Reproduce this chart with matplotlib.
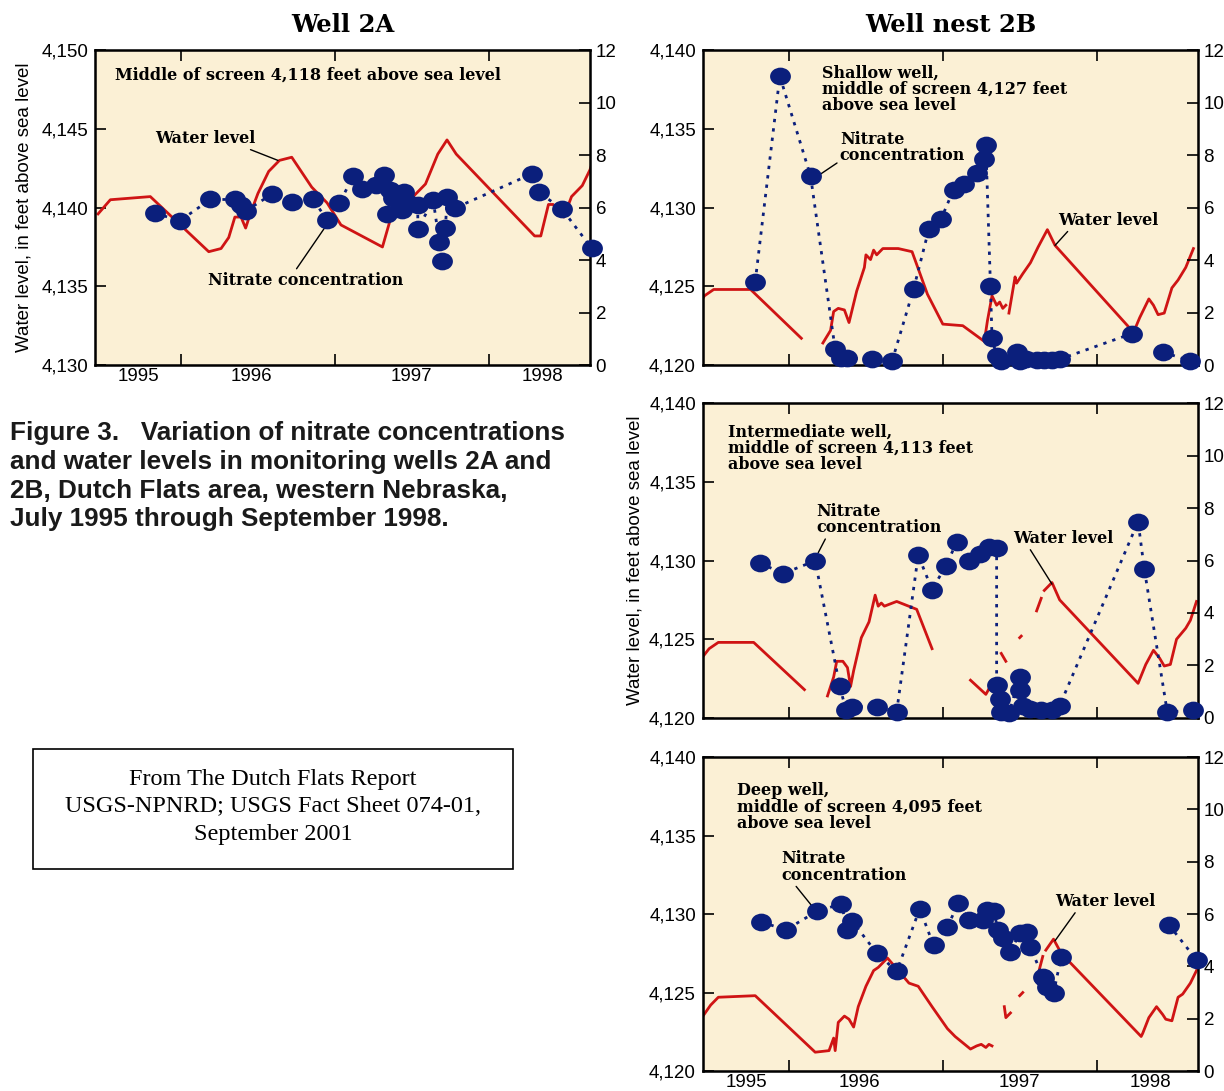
import numpy as np
import matplotlib
matplotlib.use("Agg")
import matplotlib.pyplot as plt
from matplotlib.path import Path
from matplotlib.patches import Rectangle
from matplotlib.ticker import FuncFormatter

nan = np.nan

# ---- Well 2A ----
wl_2a_yr = [1995.46, 1995.54, 1995.80, 1996.18, 1996.26, 1996.31, 1996.35, 1996.39, 1996.42,
            1996.45, 1996.50, 1996.57, 1996.64, 1996.72, 1996.85, 1996.95, 1997.04, 1997.31,
            1997.36, 1997.44, 1997.51, 1997.59, 1997.67, 1997.73, 1997.79, 1998.30, 1998.34,
            1998.39, 1998.42, 1998.49, 1998.54, 1998.61, 1998.66, 1998.68]
wl_2a = [4139.6, 4140.5, 4140.7, 4137.2, 4137.4, 4138.1, 4139.4, 4139.4, 4138.7,
         4139.6, 4140.9, 4142.3, 4143.0, 4143.2, 4141.3, 4140.3, 4138.9, 4137.5,
         4139.2, 4140.0, 4140.7, 4141.5, 4143.4, 4144.3, 4143.4, 4138.2, 4138.2,
         4140.2, 4140.2, 4139.4, 4140.7, 4141.4, 4142.4, 4143.0]
no3_2a_yr = [1995.83, 1995.99, 1996.19, 1996.35, 1996.39, 1996.42, 1996.59, 1996.72, 1996.86,
             1996.95, 1997.03, 1997.12, 1997.18, 1997.27, 1997.32, 1997.34, 1997.36, 1997.38,
             1997.44, 1997.45, 1997.47, 1997.54, 1997.54, 1997.64, 1997.68, 1997.70, 1997.72,
             1997.73, 1997.78, 1998.28, 1998.33, 1998.48, 1998.67]
no3_2a = [5.80, 5.49, 6.31, 6.31, 6.09, 5.87, 6.51, 6.22, 6.31,
          5.52, 6.17, 7.20, 6.70, 6.86, 7.24, 5.75, 6.67, 6.36,
          5.90, 6.59, 6.21, 6.10, 5.18, 6.29, 4.69, 3.96, 5.22,
          6.40, 5.98, 7.28, 6.58, 5.93, 4.46]

# ---- Well nest 2B, shallow ----
wl_sh_yr = [1995.41, 1995.45, 1995.51, 1995.75, 1996.08, nan,
            1996.22, 1996.27, 1996.29, 1996.32, 1996.36, 1996.39, 1996.44, 1996.49, 1996.50,
            1996.53, 1996.55, 1996.57, 1996.61, 1996.71, 1996.80, 1996.90, 1997.00, 1997.13,
            1997.27, 1997.29, 1997.32, 1997.35, 1997.37, 1997.39, 1997.41, nan,
            1997.43, 1997.47, 1997.48, 1997.52, 1997.57, 1997.62, 1997.68, 1997.73, 1998.22,
            1998.25, 1998.28, 1998.34, 1998.37, 1998.40, 1998.44, 1998.49, 1998.53, 1998.58,
            1998.63]
wl_sh = [4123.8, 4124.4, 4124.8, 4124.8, 4121.7, nan,
         4121.4, 4122.2, 4123.4, 4123.6, 4123.5, 4122.7, 4124.7, 4126.2, 4127.0,
         4126.7, 4127.3, 4127.0, 4127.4, 4127.4, 4127.2, 4124.5, 4122.6, 4122.5,
         4121.5, 4122.8, 4124.4, 4123.8, 4124.0, 4123.6, 4123.8, nan,
         4123.3, 4125.6, 4125.2, 4125.8, 4126.5, 4127.5, 4128.6, 4127.6, 4122.3,
         4122.3, 4123.0, 4124.2, 4123.8, 4123.2, 4123.3, 4124.9, 4125.4, 4126.2,
         4127.4]
no3_sh_yr = [1995.78, 1995.94, 1996.14, 1996.30, 1996.34, 1996.38, 1996.54, 1996.67, 1996.81,
             1996.91, 1996.99, 1997.07, 1997.14, 1997.22, 1997.27, 1997.28, 1997.31, 1997.32,
             1997.35, 1997.38, 1997.48, 1997.50, 1997.54, 1997.61, 1997.66, 1997.71, 1997.76,
             1998.23, nan, 1998.43, 1998.61]
no3_sh = [3.18, 11.01, 7.20, 0.60, 0.28, 0.26, 0.22, 0.15, 2.90,
          5.20, 5.58, 6.69, 6.90, 7.31, 7.84, 8.37, 3.00, 1.02,
          0.34, 0.15, 0.51, 0.15, 0.22, 0.18, 0.18, 0.18, 0.22,
          1.20, nan, 0.50, 0.15]

# ---- Well nest 2B, intermediate ----
wl_im_yr = [1995.44, 1995.48, 1995.54, 1995.77, 1996.10, nan,
            1996.25, 1996.29, 1996.31, 1996.35, 1996.38, 1996.40, 1996.42, 1996.47, 1996.52,
            1996.56, 1996.58, 1996.60, 1996.62, 1996.70, 1996.83, 1996.93, nan,
            1997.18, 1997.28, 1997.32, nan, 1997.38, 1997.41, nan, 1997.50, 1997.51, nan,
            1997.61, 1997.64, nan, 1997.66, 1997.71, 1997.76, 1998.27, 1998.32, 1998.37,
            1998.41, 1998.44, 1998.48, 1998.52, 1998.58, 1998.61, 1998.65]
wl_im = [4123.9, 4124.4, 4124.8, 4124.8, 4121.8, nan,
         4121.4, 4122.6, 4123.6, 4123.6, 4123.2, 4122.0, 4123.0, 4125.1, 4126.1,
         4127.8, 4127.1, 4127.3, 4127.1, 4127.4, 4126.9, 4124.4, nan,
         4122.4, 4121.5, 4122.2, nan, 4124.1, 4123.6, nan, 4125.1, 4125.2, nan,
         4126.8, 4127.6, nan, 4128.1, 4128.6, 4127.5, 4122.2, 4123.4, 4124.3,
         4123.8, 4123.3, 4123.4, 4125.0, 4125.7, 4126.2, 4127.4]
no3_im_yr = [1995.81, 1995.96, 1996.17, 1996.33, 1996.37, 1996.41, 1996.57, 1996.70, 1996.84,
             1996.93, 1997.02, 1997.09, 1997.17, 1997.24, 1997.30, 1997.35, 1997.35, 1997.37,
             1997.38, 1997.43, 1997.50, 1997.50, 1997.52, 1997.57, 1997.64, 1997.71, 1997.76,
             1998.27, 1998.31, 1998.46, 1998.63]
no3_im = [5.91, 5.50, 5.99, 1.20, 0.31, 0.43, 0.43, 0.24, 6.20,
          4.89, 5.80, 6.69, 5.99, 6.23, 6.52, 6.48, 1.27, 0.73,
          0.22, 0.18, 1.58, 1.07, 0.47, 0.34, 0.31, 0.31, 0.47,
          7.48, 5.69, 0.22, 0.31]

# ---- Well nest 2B, deep ----
wl_dp_yr = [1995.44, 1995.49, 1995.54, 1995.78, 1996.17, 1996.26, 1996.29, 1996.30, 1996.32,
            1996.36, 1996.39, 1996.42, 1996.45, 1996.50, 1996.55, 1996.58, 1996.64, 1996.78,
            1996.84, 1996.93, 1997.03, 1997.08, 1997.18, 1997.22, 1997.25, 1997.28, 1997.30,
            1997.32, nan, 1997.40, 1997.41, 1997.44, nan, 1997.50, 1997.52, nan,
            1997.61, 1997.65, nan, 1997.67, 1997.72, 1997.77, 1998.29, 1998.30, 1998.34,
            1998.39, 1998.43, 1998.45, 1998.49, 1998.53, 1998.56, 1998.61, 1998.66]
wl_dp = [4123.5, 4124.2, 4124.7, 4124.8, 4121.2, 4121.3, 4122.1, 4121.3, 4123.1,
         4123.5, 4123.3, 4122.8, 4124.1, 4125.4, 4126.4, 4126.6, 4127.2, 4125.6,
         4125.4, 4124.1, 4122.7, 4122.2, 4121.4, 4121.6, 4121.7, 4121.5, 4121.7,
         4121.6, nan, 4124.1, 4123.4, 4123.7, nan, 4124.8, 4125.0, nan,
         4125.8, 4127.3, nan, 4127.7, 4128.4, 4127.5, 4122.2, 4122.4, 4123.4,
         4124.1, 4123.6, 4123.3, 4123.2, 4124.7, 4124.9, 4125.6, 4126.6]
no3_dp_yr = [1995.82, 1995.98, 1996.18, 1996.34, 1996.38, 1996.41, 1996.57, 1996.70, 1996.85,
             1996.94, 1997.03, 1997.10, 1997.17, 1997.26, 1997.29, 1997.33, 1997.36, 1997.39,
             1997.44, 1997.50, 1997.55, 1997.57, 1997.65, 1997.66, 1997.68, 1997.72, 1997.77,
             nan, 1998.47, 1998.65]
no3_dp = [5.69, 5.40, 6.10, 6.39, 5.38, 5.73, 4.51, 3.81, 6.20,
          4.80, 5.50, 6.42, 5.78, 5.78, 6.15, 6.11, 5.39, 5.08,
          4.55, 5.27, 5.31, 4.74, 3.59, 3.57, 3.21, 2.98, 4.36,
          nan, 5.59, 4.25]

year_labels = ['1995', '1996', '1997', '1998']
year_label_pos = [1995.72, 1996.46, 1997.50, 1998.35]

CREAM = '#fbf0d5'
RED = '#cf1414'
NAVY = '#0b1f7c'
SERIF = 'DejaVu Serif'
SANS = 'Liberation Sans'
ANN = dict(family=SERIF, fontsize=11.5, fontweight='bold')

c = Path.unit_circle()
oval = Path(c.vertices * np.array([1.0, 0.85]), c.codes)

fig = plt.figure(figsize=(12.24, 10.91), dpi=100)


def make_panel(rect, wl_yr, wl, no3_yr, no3, ylim, show_x):
    ax = fig.add_axes(rect)
    ax.set_facecolor(CREAM)
    ax.plot(wl_yr, wl, color=RED, lw=2.0, zorder=2)
    ax.set_xlim(1995.44, 1998.66)
    ax.set_ylim(*ylim)
    ax.set_yticks(np.arange(ylim[0], ylim[1] + 1, 5))
    ax.yaxis.set_major_formatter(FuncFormatter(lambda v, p: '{:,.0f}'.format(v)))
    ax.set_xticks([1996, 1997, 1998])
    ax.set_xticklabels([])
    ax.set_xticks(year_label_pos, minor=True)
    if show_x:
        ax.set_xticklabels(year_labels, minor=True)
    ax.tick_params(axis='x', which='major', direction='in', top=True, length=8, width=1.2)
    ax.tick_params(axis='x', which='minor', length=0, labelsize=13.5, pad=2)
    ax.tick_params(axis='y', direction='in', length=8, width=1.2, labelsize=13.5, pad=5)
    for lab in ax.get_xticklabels(minor=True) + ax.get_yticklabels():
        lab.set_fontfamily(SANS)
    for s in ax.spines.values():
        s.set_linewidth(1.8)

    ax2 = ax.twinx()
    ax2.set_ylim(0, 12)
    ax2.set_yticks(range(0, 13, 2))
    ax2.tick_params(axis='y', direction='in', length=8, width=1.2, labelsize=13.5, pad=4)
    for lab in ax2.get_yticklabels():
        lab.set_fontfamily(SANS)
    ax2.plot(no3_yr, no3, color=NAVY, lw=2.0, linestyle=(0, (1.2, 2.2)), zorder=2)
    ax2.plot(no3_yr, no3, linestyle='none', marker=oval, markersize=15,
             color=NAVY, markeredgewidth=0, zorder=3, clip_on=False)
    ax2.set_xlim(1995.44, 1998.66)
    return ax, ax2


def pointer(ax, text, xy_tip, xy_text, ha, rel):
    ax.annotate(text, xy=xy_tip, xytext=xy_text, ha=ha, va='center', linespacing=0.95,
                arrowprops=dict(arrowstyle='-', color='black', lw=1.0, shrinkA=0,
                                shrinkB=0, relpos=rel), **ANN)


# Well 2A
ax, ax2 = make_panel([0.0776, 0.6654, 0.4044, 0.2886], wl_2a_yr, wl_2a, no3_2a_yr, no3_2a,
                     (4130, 4150), True)
ax.set_ylabel('Water level, in feet above sea level', family=SANS, fontsize=13.5, labelpad=6)
ax.set_title('Well 2A', family=SERIF, fontweight='bold', fontsize=17.5, pad=13)
ax.text(0.04, 0.92, 'Middle of screen 4,118 feet above sea level', transform=ax.transAxes,
        va='center', **ANN)
pointer(ax, 'Water level', (1996.63, 4143.0), (1996.16, 4144.4), 'center', (0.92, -0.1))
pointer(ax, 'Nitrate concentration', (1996.94, 4138.8), (1996.81, 4135.4), 'center',
        (0.45, 1.1))

# Well nest 2B - shallow
ax, ax2 = make_panel([0.5743, 0.6654, 0.4045, 0.2886], wl_sh_yr, wl_sh, no3_sh_yr, no3_sh,
                     (4120, 4140), False)
ax.set_title('Well nest 2B', family=SERIF, fontweight='bold', fontsize=17.5, pad=13)
ax.text(0.24, 0.955, 'Shallow well,\nmiddle of screen 4,127 feet\nabove sea level',
        transform=ax.transAxes, va='top', linespacing=0.95, **ANN)
pointer(ax, 'Nitrate\nconcentration', (1996.17, 4131.9), (1996.33, 4133.8), 'left',
        (0.0, 0.1))
pointer(ax, 'Water level', (1997.73, 4127.6), (1997.75, 4129.2), 'left', (0.12, 0.0))

# Well nest 2B - intermediate
ax, ax2 = make_panel([0.5743, 0.3419, 0.4045, 0.2887], wl_im_yr, wl_im, no3_im_yr, no3_im,
                     (4120, 4140), False)
ax.set_ylabel('Water level, in feet above sea level', family=SANS, fontsize=13.5, labelpad=4)
ax.text(0.05, 0.936, 'Intermediate well,\nmiddle of screen 4,113 feet\nabove sea level',
        transform=ax.transAxes, va='top', linespacing=0.95, **ANN)
pointer(ax, 'Nitrate\nconcentration', (1996.19, 4130.5), (1996.18, 4132.6), 'left',
        (0.08, 0.0))
pointer(ax, 'Water level', (1997.71, 4128.5), (1997.46, 4131.4), 'left', (0.15, 0.0))

# Well nest 2B - deep
ax, ax2 = make_panel([0.5743, 0.0183, 0.4045, 0.2878], wl_dp_yr, wl_dp, no3_dp_yr, no3_dp,
                     (4120, 4140), True)
ax.text(0.069, 0.92, 'Deep well,\nmiddle of screen 4,095 feet\nabove sea level',
        transform=ax.transAxes, va='top', linespacing=0.95, **ANN)
pointer(ax, 'Nitrate\nconcentration', (1996.15, 4130.5), (1995.95, 4133.0), 'left',
        (0.1, 0.0))
pointer(ax, 'Water level', (1997.73, 4128.3), (1997.73, 4130.8), 'left', (0.22, 0.0))

# caption and source box
fig.text(0.008, 1 - 421 / 1091,
         'Figure 3.   Variation of nitrate concentrations\n'
         'and water levels in monitoring wells 2A and\n'
         '2B, Dutch Flats area, western Nebraska,\n'
         'July 1995 through September 1998.',
         family=SANS, fontweight='bold', fontsize=18.8, va='top', ha='left',
         linespacing=1.25, color='#1a1a1a')

fig.add_artist(Rectangle((33 / 1224, 1 - 869 / 1091), 480 / 1224, 120 / 1091,
                         transform=fig.transFigure, fill=False, lw=1.2, color='black'))
fig.text(273 / 1224, 1 - 807 / 1091,
         'From The Dutch Flats Report\nUSGS-NPNRD; USGS Fact Sheet 074-01,\nSeptember 2001',
         family='Liberation Serif', fontsize=17.5, ha='center', va='center', linespacing=1.42)

fig.savefig('out.png', dpi=100, facecolor='white')
